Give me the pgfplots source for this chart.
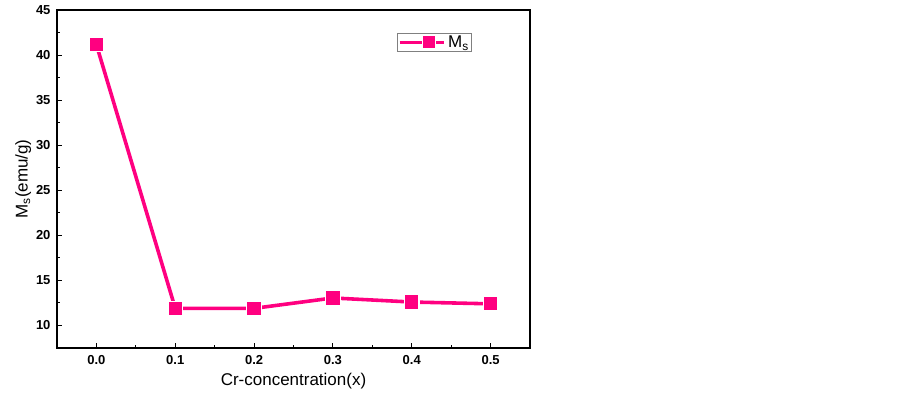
\documentclass[border=0pt]{standalone}
\usepackage{pgfplots}
\pgfplotsset{compat=1.18}
\usepackage{fontspec}
\setmainfont{Liberation Sans}
\definecolor{mpink}{RGB}{255,0,128}
\begin{document}
\begin{tikzpicture}
\begin{axis}[
  scale only axis,
  width=473bp, height=338bp,
  xmin=-0.05, xmax=0.55,
  ymin=7.5, ymax=45,
  xtick={0,0.1,0.2,0.3,0.4,0.5},
  ytick={10,15,20,25,30,35,40,45},
  minor x tick num=1,
  minor y tick num=1,
  tick pos=left,
  tick align=inside,
  major tick length=5bp,
  minor tick length=3bp,
  axis line style={line width=1.1pt},
  every tick/.style={line width=0.9pt,black},
  x tick label style={yshift=-4bp},
  y tick label style={xshift=-3bp},
  xticklabel style={/pgf/number format/fixed,/pgf/number format/fixed zerofill,/pgf/number format/precision=1},
  /pgf/number format/assume math mode=true,
  ticklabel style={font=\fontsize{13bp}{15bp}\selectfont\bfseries},
  xlabel={Cr-concentration(x)},
  ylabel={M\textsubscript{s}(emu/g)},
  label style={font=\fontsize{17bp}{19bp}\selectfont},
  xlabel style={yshift=-2bp},
  ylabel style={yshift=-2bp},
  legend style={at={(rel axis cs:0.719,0.932)}, anchor=north west, draw=gray, line width=0.6pt,
    font=\fontsize{17bp}{19bp}\selectfont, inner sep=0.5pt},
  legend image code/.code={
    \draw[line width=3.5pt, mpink] (-1pt,0pt) -- (44pt,0pt);
    \node[rectangle, fill=mpink, draw=white, line width=0.8pt, minimum size=13bp, inner sep=0pt] at (21.5pt,0pt) {};
  },
  legend cell align=left,
]
\addplot[color=mpink, line width=3.6pt, mark=square*, mark size=7.2bp,
  mark options={fill=mpink, draw=white, line width=1.2pt}]
  coordinates {(0.0,41.15) (0.1,11.9) (0.2,11.9) (0.3,13.05) (0.4,12.6) (0.5,12.4)};
\addlegendentry{M\textsubscript{s}}
\coordinate (O) at (rel axis cs:0,0);
\end{axis}
\path (O) ++(-57bp,-46bp) rectangle ++(903bp,394bp);
\end{tikzpicture}
\end{document}
